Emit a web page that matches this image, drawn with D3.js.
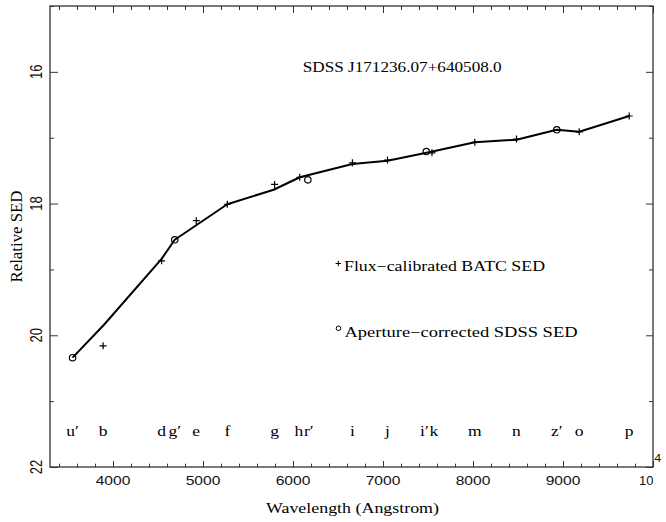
<!DOCTYPE html>
<html>
<head>
<meta charset="utf-8">
<script src="https://cdn.jsdelivr.net/npm/d3@7/dist/d3.min.js"></script>
<style>
  html, body { margin: 0; padding: 0; background: #fff; }
  svg { display: block; }
</style>
</head>
<body>
<svg id="chart" width="666" height="522"></svg>
<script>
// ---------------- DATA ----------------
const titleText = "SDSS J171236.07+640508.0";
const xLabelText = "Wavelength (Angstrom)";
const yLabelText = "Relative SED";
const legendBatc = "Flux\u2212calibrated BATC SED";
const legendSdss = "Aperture\u2212corrected SDSS SED";

// BATC flux-calibrated SED (crosses)
const batcWave = [3890, 4540, 4925, 5270, 5795, 6075, 6660, 7050, 7544, 8020, 8483, 9180, 9736];
const batcMag  = [20.16, 18.87, 18.26, 18.01, 17.71, 17.60, 17.38, 17.34, 17.23, 17.07, 17.02, 16.91, 16.67];

// SDSS aperture-corrected SED (circles)
const sdssWave = [3551, 4686, 6165, 7481, 8931];
const sdssMag  = [20.34, 18.55, 17.64, 17.21, 16.88];

// Solid SED curve
const lineWave = [3551, 3900, 4540, 4686, 5270, 5785, 6075, 6660, 7050, 7510, 8020, 8483, 8931, 9180, 9736];
const lineMag  = [20.34, 19.84, 18.84, 18.55, 18.01, 17.79, 17.60, 17.40, 17.35, 17.22, 17.07, 17.03, 16.88, 16.91, 16.67];

// Filter names along the bottom
const bandNames = ["u\u2032", "b", "d", "g\u2032", "e", "f", "g", "h", "r\u2032", "i", "j", "i\u2032", "k", "m", "n", "z\u2032", "o", "p"];
const bandWave  = [3551, 3890, 4540, 4686, 4925, 5270, 5795, 6075, 6165, 6660, 7050, 7481, 7544, 8020, 8483, 8931, 9180, 9736];

// Axis ticks
const xMajorTicks = [4000, 5000, 6000, 7000, 8000, 9000, 10000];
const xTickLabels = ["4000", "5000", "6000", "7000", "8000", "9000"];
const yMajorTicks = [16, 18, 20, 22];
const yTickLabels = ["16", "18", "20", "22"];
const xDomain = [3300, 10000];
const yDomain = [15, 22];

// ---------------- LAYOUT ----------------
const L = 50, R = 653, T = 6, B = 467;
const SX = 1.25; // horizontal glyph stretch
const serif = "'Liberation Serif', 'Times New Roman', serif";
const sans = "'Liberation Sans', Arial, sans-serif";

const svg = d3.select("#chart");
const x = d3.scaleLinear().domain(xDomain).range([L, R]);
const y = d3.scaleLinear().domain(yDomain).range([T, B]);

const xMinor = d3.range(3400, 10000, 200).filter(v => v % 1000 !== 0);
const yMinor = [15, 17, 19, 21];

function styleAxis(g) {
  g.select(".domain").remove();
  g.selectAll("line").attr("stroke", "#333").attr("stroke-width", 1);
  g.selectAll("text").remove();
}

// bottom
svg.append("g").attr("transform", `translate(0,${B})`)
  .call(d3.axisBottom(x).tickValues(xMajorTicks).tickSize(-6)).call(styleAxis);
svg.append("g").attr("transform", `translate(0,${B})`)
  .call(d3.axisBottom(x).tickValues(xMinor).tickSize(-3.3)).call(styleAxis);
// top
svg.append("g").attr("transform", `translate(0,${T})`)
  .call(d3.axisTop(x).tickValues(xMajorTicks).tickSize(-7)).call(styleAxis);
svg.append("g").attr("transform", `translate(0,${T})`)
  .call(d3.axisTop(x).tickValues(xMinor).tickSize(-4)).call(styleAxis);
// left
svg.append("g").attr("transform", `translate(${L},0)`)
  .call(d3.axisLeft(y).tickValues(yMajorTicks).tickSize(-8)).call(styleAxis);
svg.append("g").attr("transform", `translate(${L},0)`)
  .call(d3.axisLeft(y).tickValues(yMinor).tickSize(-4)).call(styleAxis);
// right
svg.append("g").attr("transform", `translate(${R},0)`)
  .call(d3.axisRight(y).tickValues(yMajorTicks).tickSize(-7)).call(styleAxis);
svg.append("g").attr("transform", `translate(${R},0)`)
  .call(d3.axisRight(y).tickValues(yMinor).tickSize(-4)).call(styleAxis);

// frame
svg.append("rect").attr("x", L).attr("y", T).attr("width", R - L).attr("height", B - T)
  .attr("fill", "none").attr("stroke", "#333").attr("stroke-width", 1.3);

// x tick labels
svg.append("g").selectAll("text").data(xTickLabels).join("text")
  .attr("transform", (d, i) => `translate(${x(xMajorTicks[i])},484.5) scale(${SX},1)`)
  .attr("text-anchor", "middle").attr("font-family", sans).attr("font-size", 12.5)
  .attr("fill", "#111").text(d => d);
// 10^4
const tenG = svg.append("g").attr("transform", `translate(${x(10000) - 14},484.5) scale(${SX},1)`);
tenG.append("text").attr("font-family", sans).attr("font-size", 12.5).attr("fill", "#111")
  .attr("textLength", 11.5).attr("lengthAdjust", "spacingAndGlyphs").text("10");
tenG.append("text").attr("x", 12.3).attr("y", -23).attr("font-family", sans).attr("font-size", 10)
  .attr("fill", "#111").text("4");

// y tick labels (rotated)
svg.append("g").selectAll("text").data(yTickLabels).join("text")
  .attr("transform", (d, i) => `translate(42,${y(yMajorTicks[i])}) scale(${SX},1) rotate(-90)`)
  .attr("text-anchor", "middle").attr("font-family", sans).attr("font-size", 13)
  .attr("fill", "#111").text(d => d);

// axis titles
svg.append("text")
  .attr("transform", `translate(${(L + R) / 2 + 1},513) scale(${SX},1)`)
  .attr("text-anchor", "middle").attr("font-family", serif).attr("font-size", 14)
  .attr("textLength", 173 / SX).attr("lengthAdjust", "spacingAndGlyphs")
  .text(xLabelText);
svg.append("text")
  .attr("transform", `translate(22,${(T + B) / 2}) scale(${SX},1) rotate(-90)`)
  .attr("text-anchor", "middle").attr("font-family", serif).attr("font-size", 14)
  .attr("textLength", 92).attr("lengthAdjust", "spacingAndGlyphs")
  .text(yLabelText);

// title
svg.append("text")
  .attr("transform", `translate(302.7,72) scale(${SX},1)`)
  .attr("font-family", serif).attr("font-size", 14)
  .attr("textLength", 199 / SX).attr("lengthAdjust", "spacingAndGlyphs")
  .text(titleText);

// band labels (nudge apart any pair that would collide)
const bandX = bandWave.map(w => x(w));
const bandSel = svg.append("g").selectAll("text").data(bandNames).join("text")
  .attr("text-anchor", "middle").attr("font-family", serif).attr("font-size", 14)
  .attr("transform", (d, i) => `translate(${bandX[i]},436) scale(${SX},1)`)
  .text(d => d);
const widths = bandSel.nodes().map(n => n.getComputedTextLength() * SX);
for (let i = 0; i < bandX.length - 1; i++) {
  const rightEdge = bandX[i] + widths[i] / 2;
  const leftEdge = bandX[i + 1] - widths[i + 1] / 2;
  const gap = leftEdge - rightEdge;
  if (gap < 0.6) {
    const shift = (0.6 - gap) / 2;
    bandX[i] -= shift;
    bandX[i + 1] += shift;
  }
}
bandSel.attr("transform", (d, i) => `translate(${bandX[i]},436) scale(${SX},1)`);

// SED curve
const lineData = lineWave.map((w, i) => [w, lineMag[i]]);
svg.append("path").datum(lineData)
  .attr("d", d3.line().x(d => x(d[0])).y(d => y(d[1])))
  .attr("fill", "none").attr("stroke", "#000").attr("stroke-width", 2)
  .attr("stroke-linejoin", "round");

// crosses
const crossPath = (cx, cy, s) => `M${cx - s},${cy}H${cx + s}M${cx},${cy - s}V${cy + s}`;
svg.append("g").selectAll("path").data(batcWave).join("path")
  .attr("d", (d, i) => crossPath(x(d), y(batcMag[i]), 3.5))
  .attr("stroke", "#000").attr("stroke-width", 1.2).attr("fill", "none");

// circles
svg.append("g").selectAll("circle").data(sdssWave).join("circle")
  .attr("cx", d => x(d)).attr("cy", (d, i) => y(sdssMag[i])).attr("r", 3.2)
  .attr("fill", "none").attr("stroke", "#000").attr("stroke-width", 1.2);

// legend
svg.append("path").attr("d", crossPath(338.3, 263.5, 2.7))
  .attr("stroke", "#000").attr("stroke-width", 1);
svg.append("text")
  .attr("transform", `translate(344,270.7) scale(${SX},1)`)
  .attr("font-family", serif).attr("font-size", 14)
  .attr("textLength", 201 / SX).attr("lengthAdjust", "spacingAndGlyphs")
  .text(legendBatc);
svg.append("circle").attr("cx", 338.5).attr("cy", 328.3).attr("r", 2.3)
  .attr("fill", "none").attr("stroke", "#000").attr("stroke-width", 1);
svg.append("text")
  .attr("transform", `translate(344.5,336.7) scale(${SX},1)`)
  .attr("font-family", serif).attr("font-size", 14)
  .attr("textLength", 233 / SX).attr("lengthAdjust", "spacingAndGlyphs")
  .text(legendSdss);
</script>
</body>
</html>
